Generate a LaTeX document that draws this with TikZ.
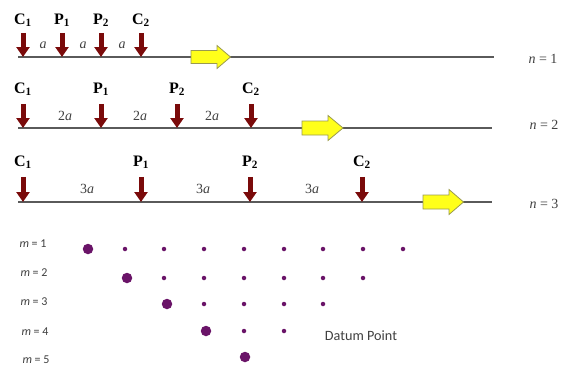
\documentclass[tikz,border=0pt]{standalone}
\usepackage{fontspec}
\setmainfont{Liberation Serif}
\newfontfamily\sansf{Carlito}
\usetikzlibrary{arrows.meta}
\definecolor{loadred}{HTML}{7A0A0A}
\definecolor{beamgray}{HTML}{5A5A5A}
\definecolor{dotpurple}{HTML}{6A1468}
\definecolor{yelfill}{HTML}{FFFF1A}
\definecolor{yeledge}{HTML}{9A9A50}
\begin{document}
\begin{tikzpicture}[x=1pt,y=-1pt,
  lbl/.style={font=\fontsize{16}{16}\selectfont\bfseries, inner sep=0pt, anchor=base},
  load/.style={line width=5pt, draw=loadred, -{Triangle[width=13pt,length=10pt]}},
  beam/.style={draw=beamgray, line width=1.1pt},
  gap/.style={font=\fontsize{14}{14}\selectfont\itshape, text=black!75, inner sep=0pt},
  nlbl/.style={font=\fontsize{14}{14}\selectfont, text=black!75, inner sep=0pt},
  mlbl/.style={font=\sansf\fontsize{12}{12}\selectfont, text=black!75, inner sep=0pt},
  bigdot/.style={circle, fill=dotpurple, minimum size=10.5pt, inner sep=0pt},
  smalldot/.style={circle, fill=dotpurple, minimum size=4.5pt, inner sep=0pt},
  yarrow/.style={fill=yelfill, draw=yeledge, line width=0.8pt, line join=miter}
]
\useasboundingbox (0,0) rectangle (566,367);

% ---------- row n = 1 ----------
\coordinate (b1s) at (18,57);
\coordinate (b1e) at (494,57);
\draw[beam] (b1s) -- (b1e);
\node[lbl] (r1c1) at (23,24) {C$_{\mathbf 1}$};
\node[lbl] (r1p1) at (62,24) {P$_{\mathbf 1}$};
\node[lbl] (r1p2) at (101,24) {P$_{\mathbf 2}$};
\node[lbl] (r1c2) at (141,24) {C$_{\mathbf 2}$};
\coordinate (r1c1b) at (23,57);
\coordinate (r1p1b) at (62,57);
\coordinate (r1p2b) at (101,57);
\coordinate (r1c2b) at (141,57);
\foreach \n in {r1c1,r1p1,r1p2,r1c2}
  \draw[load] ([yshift=-6pt]\n.south) -- (\n b);
\node[gap] (r1g1) at (43,45) {a};
\node[gap] (r1g2) at (83,45) {a};
\node[gap] (r1g3) at (122,45) {a};
\draw[yarrow] (191,50.5) -- (217,50.5) -- (217,45.5) -- (230.5,57) -- (217,68.5) -- (217,63.5) -- (191,63.5) -- cycle;
\node[nlbl] (n1) at (543,59) {\textit{n} = 1};

% ---------- row n = 2 ----------
\coordinate (b2s) at (18,128);
\coordinate (b2e) at (492,128);
\draw[beam] (b2s) -- (b2e);
\node[lbl] (r2c1) at (23,93) {C$_{\mathbf 1}$};
\node[lbl] (r2p1) at (101,93) {P$_{\mathbf 1}$};
\node[lbl] (r2p2) at (177,93) {P$_{\mathbf 2}$};
\node[lbl] (r2c2) at (251,93) {C$_{\mathbf 2}$};
\coordinate (r2c1b) at (23,128);
\coordinate (r2p1b) at (101,128);
\coordinate (r2p2b) at (177,128);
\coordinate (r2c2b) at (251,128);
\foreach \n in {r2c1,r2p1,r2p2,r2c2}
  \draw[load] ([yshift=-8pt]\n.south) -- (\n b);
\node[gap] (r2g1) at (65,116) {\textup{2}a};
\node[gap] (r2g2) at (140,116) {\textup{2}a};
\node[gap] (r2g3) at (212,116) {\textup{2}a};
\draw[yarrow] (302,121) -- (328,121) -- (328,115.5) -- (343,128) -- (328,140.5) -- (328,135) -- (302,135) -- cycle;
\node[nlbl] (n2) at (544,125) {\textit{n} = 2};

% ---------- row n = 3 ----------
\coordinate (b3s) at (18,202);
\coordinate (b3e) at (492,202);
\draw[beam] (b3s) -- (b3e);
\node[lbl] (r3c1) at (23,166) {C$_{\mathbf 1}$};
\node[lbl] (r3p1) at (141,166) {P$_{\mathbf 1}$};
\node[lbl] (r3p2) at (250,166) {P$_{\mathbf 2}$};
\node[lbl] (r3c2) at (362,166) {C$_{\mathbf 2}$};
\coordinate (r3c1b) at (23,202);
\coordinate (r3p1b) at (141,202);
\coordinate (r3p2b) at (250,202);
\coordinate (r3c2b) at (362,202);
\foreach \n in {r3c1,r3p1,r3p2,r3c2}
  \draw[load] ([yshift=-8pt]\n.south) -- (\n b);
\node[gap] (r3g1) at (87,189) {\textup{3}a};
\node[gap] (r3g2) at (203,189) {\textup{3}a};
\node[gap] (r3g3) at (312,189) {\textup{3}a};
\draw[yarrow] (423,195) -- (449,195) -- (449,189.5) -- (463.5,202) -- (449,214.5) -- (449,209) -- (423,209) -- cycle;
\node[nlbl] (n3) at (544,204) {\textit{n} = 3};

% ---------- influence dots ----------
\node[mlbl] (m1) at (33,244) {\textit{m} = 1};
\node[mlbl] (m2) at (34,273) {\textit{m} = 2};
\node[mlbl] (m3) at (34,302) {\textit{m} = 3};
\node[mlbl] (m4) at (35,332) {\textit{m} = 4};
\node[mlbl] (m5) at (36,360) {\textit{m} = 5};

\node[bigdot] (d11) at (88,249) {};
\foreach \x [count=\i from 2] in {125,164,204,244,284,323,363,403}
  \node[smalldot] (d1\i) at (\x,249) {};
\node[bigdot] (d21) at (127,278) {};
\foreach \x [count=\i from 2] in {164,204,244,284,323,363}
  \node[smalldot] (d2\i) at (\x,278) {};
\node[bigdot] (d31) at (167,304) {};
\foreach \x [count=\i from 2] in {204,244,284,323}
  \node[smalldot] (d3\i) at (\x,304) {};
\node[bigdot] (d41) at (206,331) {};
\foreach \x [count=\i from 2] in {244,284}
  \node[smalldot] (d4\i) at (\x,331) {};
\node[bigdot] (d51) at (245,357) {};

\node[font=\sansf\fontsize{14.2}{14.2}\selectfont, text=black!75, inner sep=0pt] (datum) at (361,336) {Datum Point};
\end{tikzpicture}
\end{document}
